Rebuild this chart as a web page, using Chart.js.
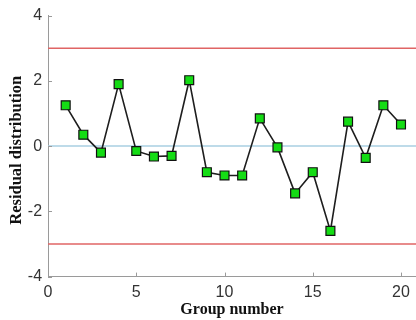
<!DOCTYPE html>
<html>
<head>
<meta charset="utf-8">
<script src="https://cdn.jsdelivr.net/npm/chart.js@4/dist/chart.umd.min.js"></script>
<style>
html,body{margin:0;padding:0;background:#fff;overflow:hidden;}
#wrap{width:416px;height:320px;position:relative;}
</style>
</head>
<body>
<div id="wrap"><canvas id="c" width="416" height="320"></canvas></div>
<script>
const groups = [1,2,3,4,5,6,7,8,9,10,11,12,13,14,15,16,17,18,19,20];
const residuals = [1.25,0.35,-0.2,1.9,-0.15,-0.32,-0.3,2.02,-0.8,-0.9,-0.9,0.85,-0.04,-1.45,-0.8,-2.6,0.75,-0.36,1.25,0.66];
const xTicks = [0,5,10,15,20];
const yTicks = [-4,-2,0,2,4];
const upperLimit = 3;
const lowerLimit = -3;
const centerLine = 0;
const xMin = 0, xMax = 20.85, yMin = -4, yMax = 4;

const pts = groups.map((g,i)=>({x:g,y:residuals[i]}));
const hline = v => [{x:xMin,y:v},{x:xMax,y:v}];

const inwardTicks = {
  id:'inwardTicks',
  afterDatasetsDraw(chart){
    const {ctx, scales:{x,y}, chartArea:a} = chart;
    ctx.save();
    ctx.strokeStyle = '#9a9a9a';
    ctx.lineWidth = 1;
    ctx.beginPath();
    xTicks.forEach(t=>{const px=Math.round(x.getPixelForValue(t))+0.5; ctx.moveTo(px,a.bottom); ctx.lineTo(px,a.bottom-4);});
    yTicks.forEach(t=>{const py=Math.round(y.getPixelForValue(t))+0.5; ctx.moveTo(a.left,py); ctx.lineTo(a.left+4,py);});
    ctx.stroke();
    ctx.restore();
  }
};

new Chart(document.getElementById('c'), {
  type:'scatter',
  data:{
    datasets:[
      {data:hline(upperLimit), showLine:true, borderColor:'#e06464', borderWidth:1.5, pointRadius:0, order:3},
      {data:hline(lowerLimit), showLine:true, borderColor:'#e06464', borderWidth:1.5, pointRadius:0, order:3},
      {data:hline(centerLine), showLine:true, borderColor:'#a9cfe2', borderWidth:1.5, pointRadius:0, order:3},
      {data:pts, showLine:true, borderColor:'#1e1e1e', borderWidth:1.6,
       pointStyle:'rect', pointRadius:6.3, pointBackgroundColor:'#14dc14',
       pointBorderColor:'#111', pointBorderWidth:1.2, order:1}
    ]
  },
  options:{
    responsive:false, animation:false, devicePixelRatio:1,
    layout:{autoPadding:false, padding:{top:15,right:0,left:7,bottom:0}},
    plugins:{legend:{display:false}, tooltip:{enabled:false}},
    scales:{
      x:{type:'linear', min:xMin, max:xMax,
         afterBuildTicks(s){s.ticks = xTicks.map(v=>({value:v}));},
         grid:{display:false, drawTicks:false},
         border:{display:true, color:'#9a9a9a', width:1},
         ticks:{color:'#333', font:{family:'Liberation Sans', size:16}, padding:6, maxRotation:0},
         title:{display:true, text:'Group number', color:'#111', font:{family:'Liberation Serif', size:16, weight:'bold'}, padding:{top:-8,bottom:1}}
      },
      y:{type:'linear', min:yMin, max:yMax,
         afterBuildTicks(s){s.ticks = yTicks.map(v=>({value:v}));},
         grid:{display:false, drawTicks:false},
         border:{display:true, color:'#9a9a9a', width:1},
         ticks:{color:'#333', font:{family:'Liberation Sans', size:16}, padding:6},
         title:{display:true, text:'Residual distribution\u00A0\u00A0', color:'#111', font:{family:'Liberation Serif', size:16.5, weight:'bold'}, padding:{top:0,bottom:-5}}
      }
    }
  },
  plugins:[inwardTicks]
});
</script>
</body>
</html>
